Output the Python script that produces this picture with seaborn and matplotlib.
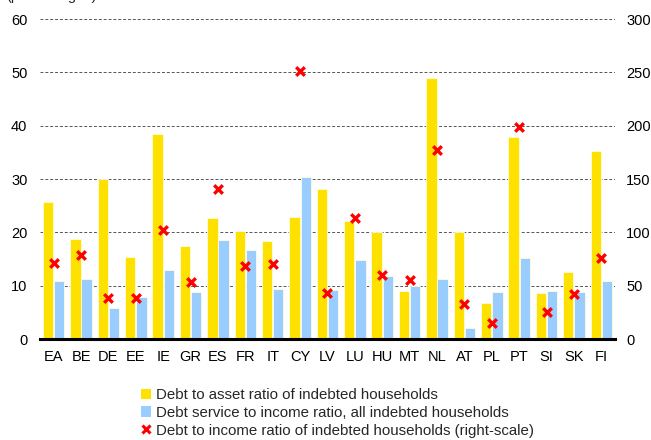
import numpy as np
import pandas as pd
import matplotlib
matplotlib.use("Agg")
import matplotlib.pyplot as plt
import seaborn as sns
from matplotlib.patches import Patch
from matplotlib.lines import Line2D

# --- Data ---
countries = ["EA", "BE", "DE", "EE", "IE", "GR", "ES", "FR", "IT", "CY", "LV",
             "LU", "HU", "MT", "NL", "AT", "PL", "PT", "SI", "SK", "FI"]
debt_to_asset = [25.7, 18.7, 30.0, 15.3, 38.5, 17.4, 22.6, 20.3, 18.4, 22.9, 28.1,
                 22.1, 20.0, 9.0, 49.0, 20.0, 6.7, 37.9, 8.6, 12.6, 35.3]
debt_service = [10.9, 11.3, 5.9, 7.9, 12.9, 8.9, 18.6, 16.6, 9.3, 30.4, 9.2,
                14.8, 11.8, 9.9, 11.3, 2.0, 8.8, 15.1, 9.0, 8.9, 10.8]
debt_to_income = [71, 79, 38, 38, 102, 53, 141, 68, 70, 251, 43,
                  113, 60, 55, 177, 33, 15, 199, 25, 42, 76]

s1 = "Debt to asset ratio of indebted households"
s2 = "Debt service to income ratio, all indebted households"
s3 = "Debt to income ratio of indebted households (right-scale)"

bars = pd.DataFrame({
    "country": countries * 2,
    "value": debt_to_asset + debt_service,
    "series": [s1] * len(countries) + [s2] * len(countries),
})

yellow = "#FFE100"
blue = "#99CCFF"
red = "#FF0000"

sns.set_style("white")
plt.rcParams["font.family"] = ["Liberation Sans", "DejaVu Sans"]
plt.rcParams["font.size"] = 10.5

fig = plt.figure(figsize=(6.51, 4.40), dpi=100)
ax = fig.add_axes([0.0614, 0.2295, 0.8833, 0.7273])

sns.barplot(data=bars, x="country", y="value", hue="series", order=countries,
            palette=[yellow, blue], saturation=1, width=0.82, gap=0.08, ax=ax,
            edgecolor="#fffbe0", linewidth=0.6, legend=False)
ax.set_ylim(0, 60)
ax.set_yticks(range(0, 61, 10))
ax.set_xlim(-0.5, len(countries) - 0.5)
ax.grid(axis="y", color="#555555", linestyle=(0, (3, 2)), linewidth=0.7)
ax.set_axisbelow(True)
ax.set_xlabel("")
ax.set_ylabel("")
for sp in ["top", "right", "left"]:
    ax.spines[sp].set_visible(False)
ax.spines["bottom"].set_color("black")
ax.spines["bottom"].set_linewidth(2.2)
ax.tick_params(axis="both", length=0, labelsize=10.5, colors="black")
ax.tick_params(axis="x", pad=8)
ax.tick_params(axis="y", pad=9)

ax2 = ax.twinx()
sns.scatterplot(x=np.arange(len(countries)), y=debt_to_income, ax=ax2,
                marker="x", color=red, s=38, linewidth=2.4, zorder=5)
ax2.set_ylim(0, 300)
ax2.set_yticks(range(0, 301, 50))
ax2.set_ylabel("")
for sp in ax2.spines.values():
    sp.set_visible(False)
ax2.tick_params(axis="y", length=0, labelsize=10.5, pad=8, colors="black")

# unit label, mostly clipped at the top edge as in the original
fig.text(0.01, 1.0, "(percentages)", va="baseline", ha="left", fontsize=10.5)

handles = [
    Patch(facecolor=yellow, edgecolor="none"),
    Patch(facecolor=blue, edgecolor="none"),
    Line2D([], [], marker="x", color=red, linestyle="none", markersize=5.5,
           markeredgewidth=2.2),
]
fig.legend(handles, [s1, s2, s3], loc="upper left", bbox_to_anchor=(0.205, 0.135),
           frameon=False, handlelength=0.7, handleheight=0.7, handletextpad=0.3,
           labelspacing=0.25, borderpad=0, fontsize=10.8)

fig.savefig("out.png", dpi=100)
